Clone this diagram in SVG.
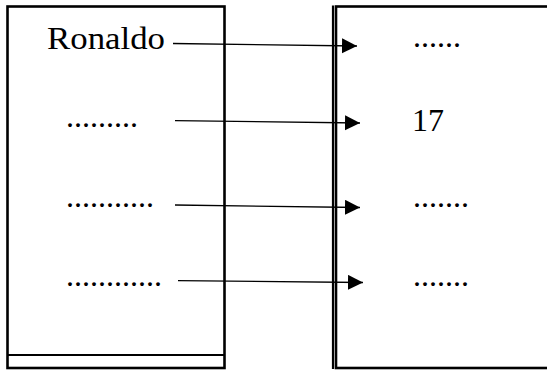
<svg xmlns="http://www.w3.org/2000/svg" width="547" height="370" viewBox="0 0 547 370">
  <defs>
    <marker id="arrowhead" markerUnits="userSpaceOnUse" markerWidth="16" markerHeight="16" viewBox="0 0 16 16" refX="15" refY="7.5" orient="auto">
      <path d="M0,0 L15,7.5 L0,15 Z" fill="#000"/>
    </marker>
  </defs>
  <style>
    .box { fill: #fff; stroke: #000; stroke-width: 2.6; }
    .edge { stroke: #000; stroke-width: 2.2; fill: none; }
    .label { font-family: "Liberation Serif", "Times New Roman", serif; font-size: 32px; fill: #000; }
    .link { stroke: #000; stroke-width: 1.3; fill: none; marker-end: url(#arrowhead); }
  </style>
  <rect width="547" height="370" fill="#fff"/>

  <!-- left set -->
  <g id="left-set">
    <rect class="box" x="7.5" y="6.5" width="217" height="361.5"/>
    <line class="edge" x1="7.5" y1="355" x2="224.5" y2="355"/>
    <text class="label" x="47" y="49" textLength="118" lengthAdjust="spacingAndGlyphs">Ronaldo</text>
    <text class="label" x="66" y="127">.........</text>
    <text class="label" x="66" y="207">...........</text>
    <text class="label" x="66" y="286">............</text>
  </g>

  <!-- right set -->
  <g id="right-set">
    <rect class="box" x="336" y="6.5" width="220" height="361.5"/>
    <line class="edge" x1="333" y1="5.5" x2="333" y2="369"/>
    <text class="label" x="413" y="47">......</text>
    <text class="label" x="412" y="131">17</text>
    <text class="label" x="413" y="207">.......</text>
    <text class="label" x="413" y="286">.......</text>
  </g>

  <!-- mapping arrows -->
  <g id="connectors">
    <line class="link" x1="173" y1="43.5" x2="357" y2="46"/>
    <line class="link" x1="175" y1="120.7" x2="360" y2="123"/>
    <line class="link" x1="175" y1="205" x2="360" y2="207.5"/>
    <line class="link" x1="178" y1="280.7" x2="363" y2="282.5"/>
  </g>
</svg>
